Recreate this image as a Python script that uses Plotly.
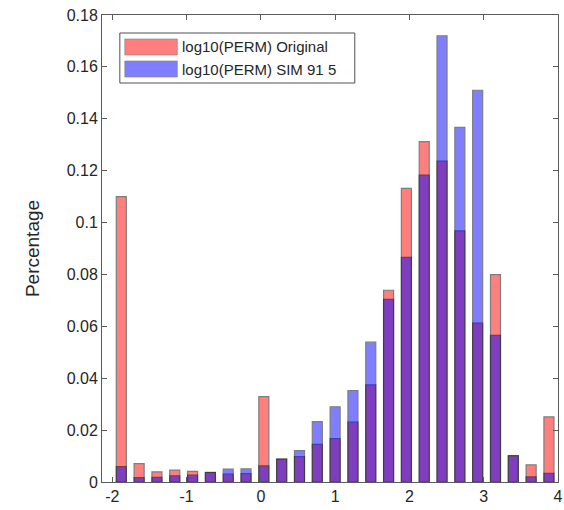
import plotly.graph_objects as go

# Histogram bin centres of log10(PERM) and the fraction of cells in each bin
bin_centers = [-1.88, -1.64, -1.40, -1.16, -0.92, -0.68, -0.44, -0.20, 0.04, 0.28,
               0.52, 0.76, 1.00, 1.24, 1.48, 1.72, 1.96, 2.20, 2.44, 2.68,
               2.92, 3.16, 3.40, 3.64, 3.88]
original_pct = [0.110, 0.0071, 0.0039, 0.0046, 0.0041, 0.0037, 0.0030, 0.0032, 0.0329, 0.0089,
                0.0098, 0.0145, 0.0167, 0.0231, 0.0374, 0.0739, 0.1132, 0.1312, 0.1237, 0.0968,
                0.0612, 0.0799, 0.0102, 0.0066, 0.0251]
sim_pct = [0.0059, 0.0017, 0.0018, 0.0024, 0.0027, 0.0036, 0.0050, 0.0051, 0.0062, 0.0087,
           0.0121, 0.0233, 0.0290, 0.0352, 0.0539, 0.0704, 0.0866, 0.1183, 0.1720, 0.1367,
           0.1510, 0.0565, 0.0101, 0.0020, 0.0033]

series_names = ["log10(PERM) Original", "log10(PERM) SIM 91 5"]
series_colors = ["rgb(255,0,0)", "rgb(0,0,255)"]

y_tick_vals = [0, 0.02, 0.04, 0.06, 0.08, 0.10, 0.12, 0.14, 0.16, 0.18]
y_tick_text = ["0", "0.02", "0.04", "0.06", "0.08", "0.1", "0.12", "0.14", "0.16", "0.18"]
x_tick_vals = [-2, -1, 0, 1, 2, 3, 4]
x_tick_text = ["-2", "-1", "0", "1", "2", "3", "4"]

FONT = "Liberation Sans, Arial, sans-serif"
TEXT = "#262626"
AXIS = "#5a5a5a"

fig = go.Figure()
for name, vals, col in zip(series_names, [original_pct, sim_pct], series_colors):
    fig.add_trace(go.Bar(
        x=bin_centers, y=vals, name=name, width=0.135,
        marker=dict(color=col, line=dict(color="black", width=1.2)),
        opacity=0.5, showlegend=False,
    ))

# Boxed legend with wide swatches, drawn in paper coordinates
W, H = 564, 510
ML, MR, MT, MB = 102, 2, 15, 28
pw, ph = W - ML - MR, H - MT - MB

def px_x(p):
    return (p - ML) / pw

def px_y(p):
    return (H - MB - p) / ph

fig.add_shape(type="rect", xref="paper", yref="paper",
              x0=px_x(120), x1=px_x(357), y0=px_y(83), y1=px_y(33),
              line=dict(color="#505050", width=1), fillcolor="white", layer="above")
rows = [(39, 55), (61, 77)]
for (top, bot), name, col in zip(rows, series_names, series_colors):
    fig.add_shape(type="rect", xref="paper", yref="paper",
                  x0=px_x(125), x1=px_x(178), y0=px_y(bot), y1=px_y(top),
                  line=dict(color="rgba(0,0,0,0.6)", width=1),
                  fillcolor=col, opacity=0.5, layer="above")
    fig.add_annotation(xref="paper", yref="paper", x=px_x(181), y=px_y((top + bot) / 2),
                       text=name, showarrow=False, xanchor="left", yanchor="middle",
                       font=dict(family=FONT, size=15, color=TEXT))

fig.update_layout(
    width=W, height=H,
    margin=dict(l=ML, r=MR, t=MT, b=MB),
    barmode="overlay",
    plot_bgcolor="white", paper_bgcolor="white",
    font=dict(family=FONT, color=TEXT),
    xaxis=dict(range=[-2.14, 4.002], tickvals=x_tick_vals, ticktext=x_tick_text,
               ticks="inside", ticklen=5, tickcolor=AXIS, showgrid=False, zeroline=False,
               showline=True, linecolor=AXIS, linewidth=1, mirror="ticks",
               ticklabeloverflow="allow",
               tickfont=dict(size=16, color=TEXT)),
    yaxis=dict(range=[0, 0.18], tickvals=y_tick_vals, ticktext=y_tick_text,
               ticks="inside", ticklen=5, tickcolor=AXIS, showgrid=False, zeroline=False,
               showline=True, linecolor=AXIS, linewidth=1, mirror="ticks",
               tickfont=dict(size=16, color=TEXT),
               title=dict(text="Percentage", font=dict(size=19, color=TEXT), standoff=22)),
)

fig.write_html("out.html")
